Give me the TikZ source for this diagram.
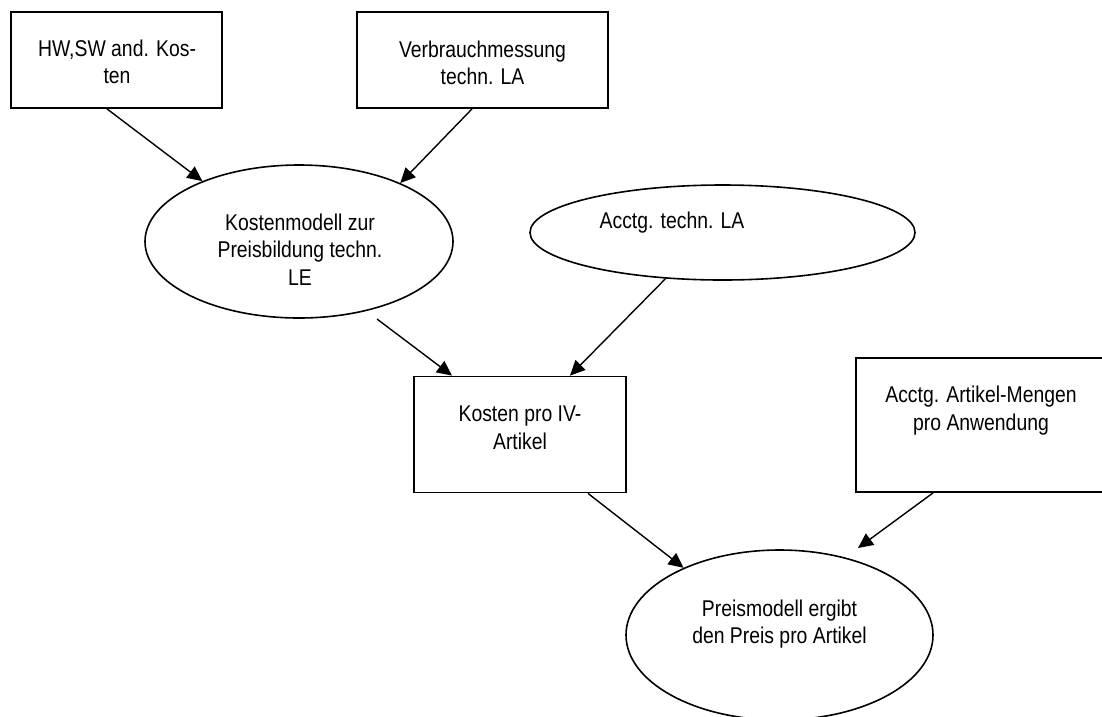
\documentclass[tikz,border=0pt]{standalone}
\usepackage{fontspec}
\setmainfont{Liberation Sans}[FakeStretch=0.85]
\usetikzlibrary{arrows.meta,shapes.geometric}
\begin{document}
\begin{tikzpicture}[x=1pt,y=-1pt,
  shapebox/.style={draw,line width=1.8pt,rectangle,inner sep=0pt},
  shapeell/.style={draw,line width=1.6pt,ellipse,inner sep=0pt},
  lbl/.style={anchor=north,align=center,inner sep=0pt,font=\fontsize{22.8}{27.5}\selectfont},
  conn/.style={line width=1.4pt,-{Triangle[length=15pt,width=14pt]}}]
\useasboundingbox (0,0) rectangle (1102,716);
% shapes
\node[shapebox,minimum width=211pt,minimum height=96pt] (b1) at (116.5,60) {};
\node[shapebox,minimum width=251pt,minimum height=96pt] (b2) at (482.5,60) {};
\node[shapeell,minimum width=308pt,minimum height=153pt] (e1) at (299,241.5) {};
\node[shapeell,minimum width=385pt,minimum height=95pt] (e2) at (722.5,232.5) {};
\node[shapebox,minimum width=212pt,minimum height=116pt] (b3) at (520,434.5) {};
\node[shapebox,minimum width=250pt,minimum height=134pt] (b4) at (981,425) {};
\node[shapeell,minimum width=307pt,minimum height=170pt] (e3) at (779.5,635) {};
% texts
\node[lbl] (t1) at (117,37) {\strut HW,SW and. Kos-\\ten};
\node[lbl] (t2) at (482.5,38) {\strut Verbrauchmessung\\techn. LA};
\node[lbl] (t3) at (300,211) {\strut Kostenmodell zur\\Preisbildung techn.\\LE};
\node[lbl] (t4) at (672,209) {\strut Acctg. techn. LA};
\node[lbl] (t5) at (520,402.5) {\strut Kosten pro IV-\\Artikel};
\node[lbl] (t6) at (981,383.5) {\strut Acctg. Artikel-Mengen\\pro Anwendung};
\node[lbl] (t7) at (779.5,597) {\strut Preismodell ergibt\\den Preis pro Artikel};
% free ends
\coordinate (a3s) at (377,319);
\coordinate (a6e) at (858,548);
% connectors
\draw[conn] ([xshift=-9.5pt]b1.south) -- (e1.148.9);
\draw[conn] ([xshift=-10.5pt]b2.south) -- (e1.30.6);
\draw[conn] (a3s) -- ([xshift=-68pt]b3.north);
\draw[conn] (e2.219.6) -- ([xshift=50pt]b3.north);
\draw[conn] ([xshift=68pt]b3.south) -- (e3.145.5);
\draw[conn] ([xshift=-48pt]b4.south) -- (a6e);
\end{tikzpicture}
\end{document}
